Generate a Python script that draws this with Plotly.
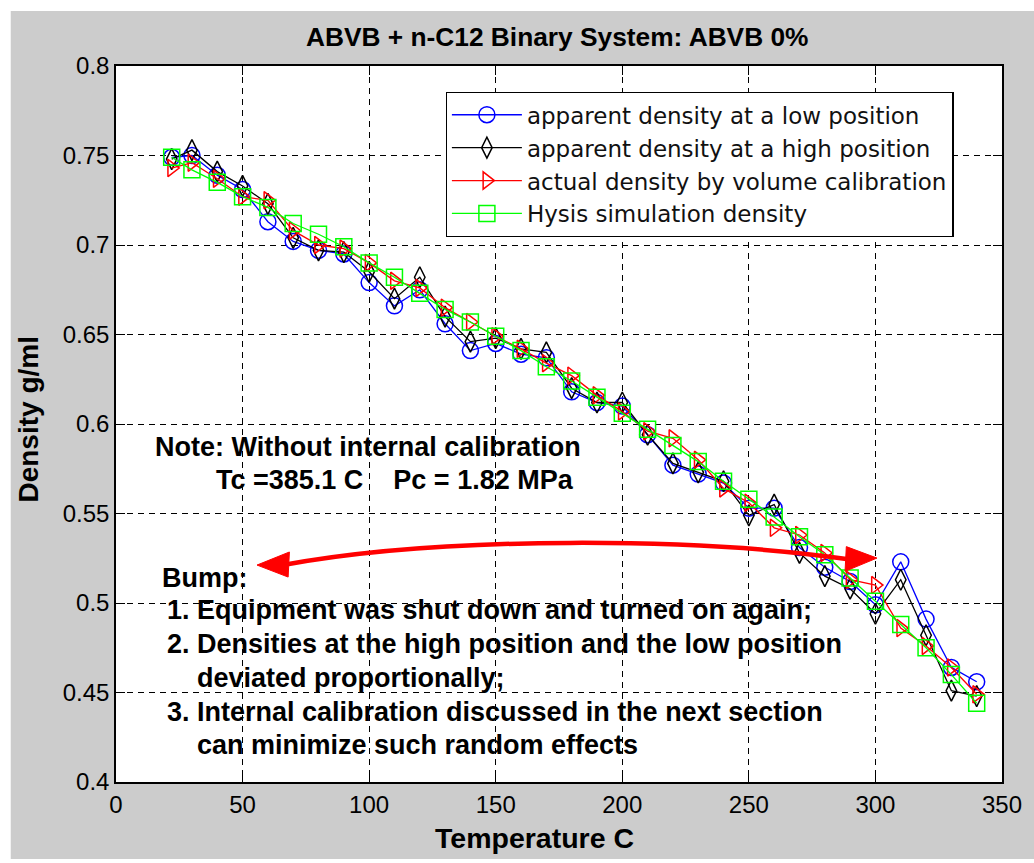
import plotly.graph_objects as go

# ---------------- data ----------------
temperature = [22, 30, 40, 50, 60, 70, 80, 90, 100, 110, 120, 130, 140, 150, 160, 170,
               180, 190, 200, 210, 220, 230, 240, 250, 260, 270, 280, 290, 300, 310, 320, 330, 340]

low_position = [0.749, 0.750, 0.739, 0.731, 0.713, 0.702, 0.697, 0.695, 0.679, 0.666, 0.675,
                0.656, 0.641, 0.645, 0.639, 0.637, 0.618, 0.612, 0.610, 0.594, 0.577, 0.572,
                0.567, 0.553, 0.553, 0.531, 0.520, 0.512, 0.499, 0.523, 0.491, 0.464, 0.456]

high_position = [0.748, 0.753, 0.741, 0.733, 0.723, 0.704, 0.697, 0.696, 0.685, 0.670, 0.682,
                 0.660, 0.646, 0.648, 0.642, 0.640, 0.620, 0.612, 0.612, 0.594, 0.578, 0.573,
                 0.568, 0.549, 0.555, 0.528, 0.515, 0.508, 0.494, 0.513, 0.482, 0.451, 0.448]

actual_density = [0.743, 0.746, 0.737, 0.727, 0.725, 0.708, 0.700, 0.698, 0.690, 0.680, 0.676,
                  0.665, 0.657, 0.649, 0.642, 0.634, 0.627, 0.616, 0.607, 0.596, 0.592, 0.580,
                  0.564, 0.556, 0.542, 0.538, 0.528, 0.513, 0.510, 0.486, 0.476, 0.464, 0.449]

hysis_density = [0.749, 0.742, 0.735, 0.727, 0.721, 0.712, 0.706, 0.699, 0.690, 0.682, 0.673,
                 0.664, 0.657, 0.649, 0.641, 0.632, 0.624, 0.615, 0.606, 0.597, 0.588, 0.579,
                 0.568, 0.558, 0.548, 0.537, 0.527, 0.514, 0.501, 0.488, 0.475, 0.460, 0.444]

series_names = ["apparent density at a low position",
                "apparent density at a high position",
                "actual density by volume calibration",
                "Hysis simulation density"]

x_ticks = [0, 50, 100, 150, 200, 250, 300, 350]
y_ticks = [0.4, 0.45, 0.5, 0.55, 0.6, 0.65, 0.7, 0.75, 0.8]
y_tick_text = ["0.4", "0.45", "0.5", "0.55", "0.6", "0.65", "0.7", "0.75", "0.8"]

title_text = "ABVB + n-C12 Binary System: ABVB 0%"
x_title = "Temperature C"
y_title = "Density g/ml"

note_lines = [
    ("Note: Without internal calibration", 14.5, 0.5872),
    ("Tc =385.1 C\u00a0\u00a0\u00a0\u00a0Pc = 1.82 MPa", 38.8, 0.5687),
    ("Bump:", 17.3, 0.514),
    ("1. Equipment was shut down and turned on again;", 19.2, 0.4961),
    ("2. Densities at the high position and the low position", 19.2, 0.4771),
    ("deviated proportionally;", 31.4, 0.4581),
    ("3. Internal calibration discussed in the next section", 19.2, 0.4391),
    ("can minimize such random effects", 31.4, 0.4207),
]

# ---------------- figure ----------------
fig = go.Figure()

styles = [
    (low_position, "#0000ff", "circle-open", 16),
    (high_position, "#000000", "diamond-tall-open", 15),
    (actual_density, "#ff0000", "triangle-right-open", 15),
    (hysis_density, "#00ff00", "square-open", 16),
]
for (vals, color, sym, size), name in zip(styles, series_names):
    fig.add_trace(go.Scatter(
        x=temperature, y=vals, name=name, mode="lines+markers",
        line=dict(color=color, width=1.3),
        marker=dict(symbol=sym, size=size, color=color, line=dict(color=color, width=1.5)),
    ))

FONT = "Liberation Sans, Arial, sans-serif"

axis_common = dict(
    showline=True, linecolor="black", linewidth=1.5, mirror="ticks",
    ticks="inside", ticklen=9, tickwidth=1.2, tickcolor="black",
    showgrid=True, gridcolor="black", gridwidth=1.3, griddash="6px,5px",
    zeroline=False, tickfont=dict(family=FONT, size=24, color="black"),
)

fig.update_xaxes(range=[0, 350], tickvals=x_ticks, ticktext=[str(v) for v in x_ticks],
                 **axis_common)
fig.update_yaxes(range=[0.4, 0.8], tickvals=y_ticks, ticktext=y_tick_text, **axis_common)

shapes = [
    # gray figure background
    dict(type="rect", xref="paper", yref="paper", x0=-0.1188, x1=1.1, y0=-0.1075, y1=1.0768,
         fillcolor="#cccccc", line=dict(width=0), layer="below"),
    # white axes area
    dict(type="rect", xref="paper", yref="paper", x0=0, x1=1, y0=0, y1=1,
         fillcolor="white", line=dict(width=0), layer="below"),
    # curved red double arrow (shaft)
    dict(type="path", xref="x", yref="y",
         path="M 66,0.5212 C 130,0.5378 230,0.5366 290,0.5243",
         line=dict(color="#ff0000", width=4.5), layer="above"),
    # left arrow head
    dict(type="path", xref="x", yref="y",
         path="M 55.7,0.5212 L 68.5,0.5285 L 68.0,0.5145 Z",
         fillcolor="#ff0000", line=dict(color="#ff0000", width=1), layer="above"),
    # right arrow head
    dict(type="path", xref="x", yref="y",
         path="M 300.6,0.5251 L 288.5,0.5315 L 288.0,0.5177 Z",
         fillcolor="#ff0000", line=dict(color="#ff0000", width=1), layer="above"),
]

annotations = [
    dict(text=title_text, xref="paper", yref="paper", x=0.498, y=1.0405,
         showarrow=False, xanchor="center", yanchor="middle",
         font=dict(family=FONT, size=26.3, color="black", weight="bold")),
    dict(text=x_title, xref="paper", yref="paper", x=0.472, y=-0.0782,
         showarrow=False, xanchor="center", yanchor="middle",
         font=dict(family=FONT, size=28.5, color="black", weight="bold")),
    dict(text=y_title, xref="paper", yref="paper", x=-0.0987, y=0.5056, textangle=-90,
         showarrow=False, xanchor="center", yanchor="middle",
         font=dict(family=FONT, size=28, color="black", weight="bold")),
]
for txt, xx, yy in note_lines:
    annotations.append(dict(text=txt, xref="x", yref="y", x=xx, y=yy, showarrow=False,
                            xanchor="left", yanchor="middle",
                            font=dict(family=FONT, size=27, color="black", weight="bold")))

fig.update_layout(
    width=1034, height=863,
    margin=dict(l=116, r=26, t=66, b=81),
    paper_bgcolor="white", plot_bgcolor="white",
    showlegend=True,
    legend=dict(x=0.372, y=0.9637, xanchor="left", yanchor="top",
                bgcolor="white", bordercolor="black", borderwidth=1.3,
                font=dict(family="DejaVu Sans", size=23, color="#111111"),
                itemwidth=70, tracegroupgap=0),
    shapes=shapes, annotations=annotations,
    font=dict(family=FONT, color="black"),
)

fig.write_html("out.html")
